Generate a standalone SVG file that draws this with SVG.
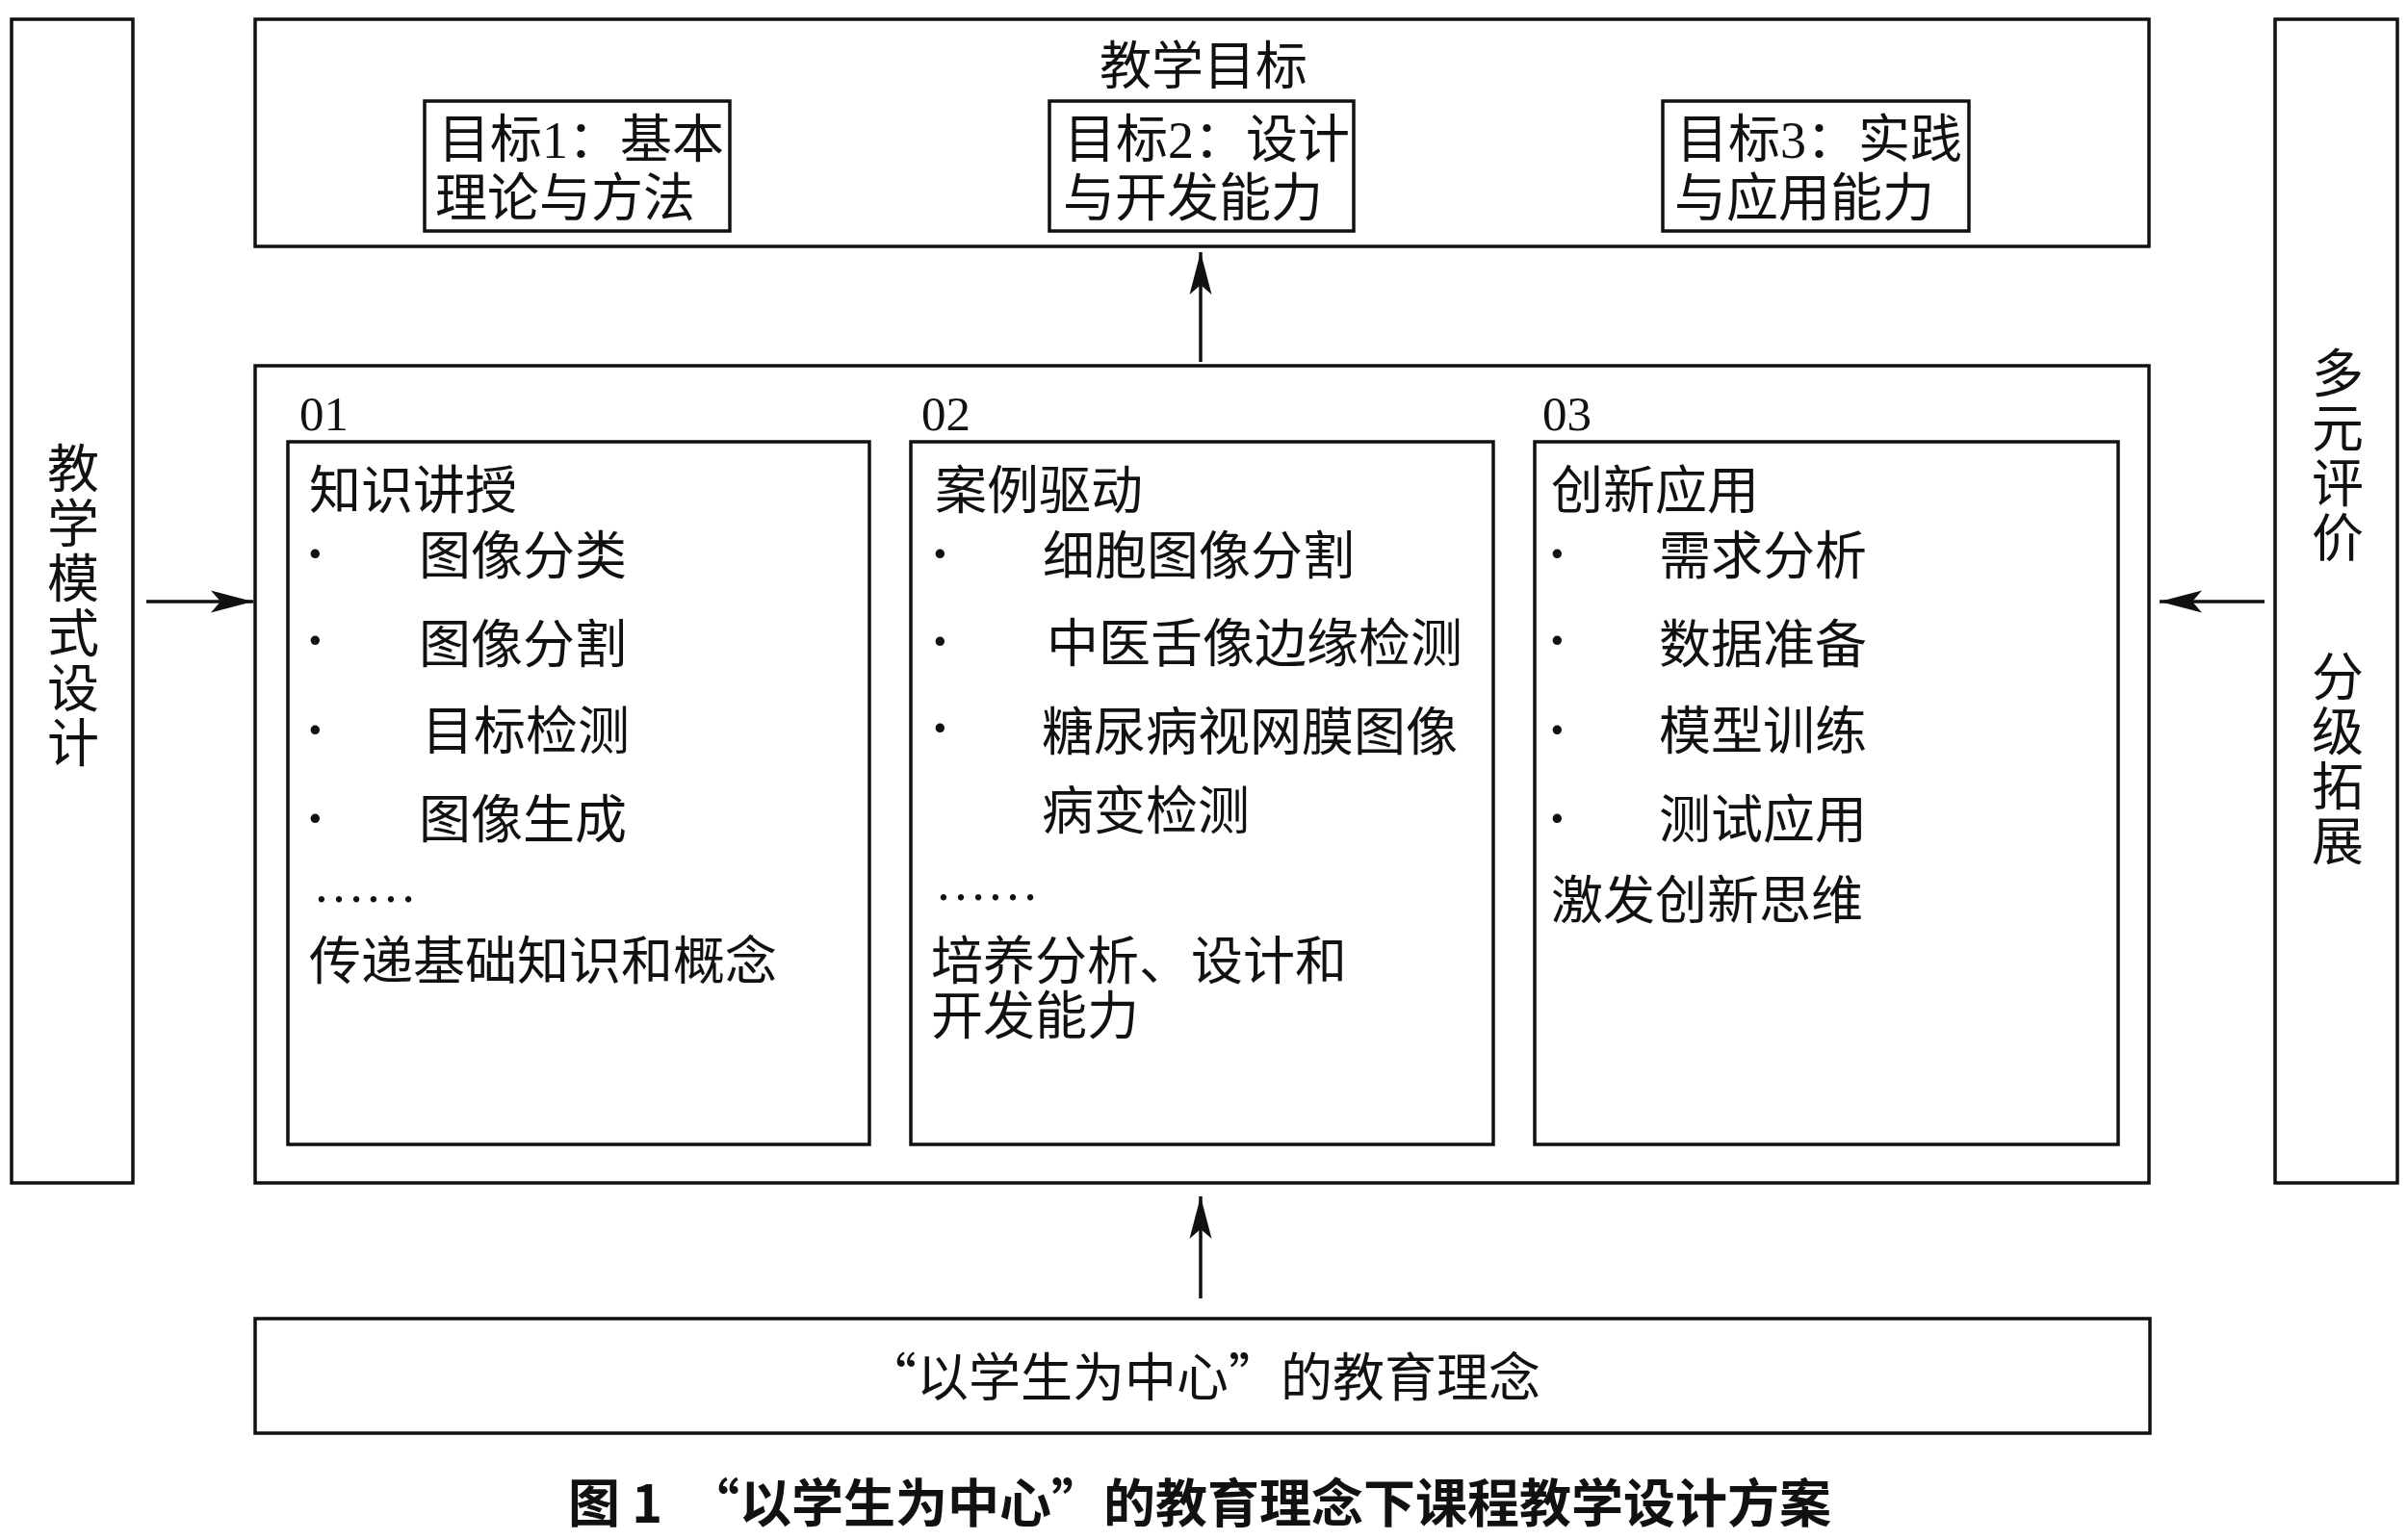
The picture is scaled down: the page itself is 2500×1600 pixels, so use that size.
<svg xmlns="http://www.w3.org/2000/svg" width="2500" height="1600" viewBox="0 0 2500 1600">
<defs>
<style>
.box{fill:#fff;stroke:#111;stroke-width:3.5}
.t{font-family:"Liberation Serif","Noto Sans CJK SC",serif;font-size:54px;fill:#111}
.b{font-family:"Liberation Serif",serif;font-size:80px;fill:#111}
.num{font-family:"Liberation Serif",serif;font-size:51px;fill:#111}
.c{text-anchor:middle}
.cap{font-family:"Noto Sans CJK SC","Liberation Sans",sans-serif;font-size:54px;font-weight:700;fill:#111}
.conn{stroke:#111;stroke-width:3.5;fill:none;marker-end:url(#ah)}
</style>
<marker id="ah" markerUnits="userSpaceOnUse" viewBox="0 -12 44 24" refX="44" refY="0" markerWidth="44" markerHeight="24" orient="auto">
<path d="M0,-11.5 L44,0 L0,11.5 L10,0 Z" fill="#111"/>
</marker>
</defs>
<rect width="2500" height="1600" fill="#fff"/>

<g id="left-design">
<rect class="box" x="12" y="20" width="126" height="1209"/>
<text class="t c"><tspan x="76" y="507">教</tspan><tspan x="76" y="564">学</tspan><tspan x="76" y="621">模</tspan><tspan x="76" y="678">式</tspan><tspan x="76" y="735">设</tspan><tspan x="76" y="792">计</tspan></text>
</g>

<g id="right-eval">
<rect class="box" x="2363" y="20" width="127" height="1209"/>
<text class="t c"><tspan x="2428" y="408">多</tspan><tspan x="2428" y="465">元</tspan><tspan x="2428" y="522">评</tspan><tspan x="2428" y="579">价</tspan></text>
<text class="t c"><tspan x="2428" y="723">分</tspan><tspan x="2428" y="780">级</tspan><tspan x="2428" y="837">拓</tspan><tspan x="2428" y="894">展</tspan></text>
</g>

<g id="goals">
<rect class="box" x="265" y="20" width="1967" height="236"/>
<text class="t c" x="1250" y="88">教学目标</text>
</g>
<g id="goal1">
<rect class="box" x="441" y="105" width="317" height="135"/>
<text class="t"><tspan x="455" y="164">目标1：基本</tspan><tspan x="452" y="225">理论与方法</tspan></text>
</g>
<g id="goal2">
<rect class="box" x="1090" y="105" width="316" height="135"/>
<text class="t"><tspan x="1105" y="164">目标2：设计</tspan><tspan x="1104" y="225">与开发能力</tspan></text>
</g>
<g id="goal3">
<rect class="box" x="1727" y="105" width="318" height="135"/>
<text class="t"><tspan x="1741" y="164">目标3：实践</tspan><tspan x="1739" y="225">与应用能力</tspan></text>
</g>

<g id="model">
<rect class="box" x="265" y="380" width="1967" height="849"/>
</g>

<g id="m01">
<text class="num" x="311" y="447">01</text>
<rect class="box" x="299" y="459" width="604" height="730"/>
<text class="t" x="321" y="529">知识讲授</text>
<text class="b"><tspan x="314" y="602">·</tspan><tspan x="314" y="692">·</tspan><tspan x="314" y="785">·</tspan><tspan x="314" y="877">·</tspan></text>
<text class="t"><tspan x="435" y="597">图像分类</tspan><tspan x="435" y="689">图像分割</tspan><tspan x="438" y="779">目标检测</tspan><tspan x="435" y="871">图像生成</tspan></text>
<text class="t" x="325" y="937">……</text>
<text class="t" x="321" y="1018">传递基础知识和概念</text>
</g>

<g id="m02">
<text class="num" x="957" y="447">02</text>
<rect class="box" x="946" y="459" width="605" height="730"/>
<text class="t" x="971" y="529">案例驱动</text>
<text class="b"><tspan x="963" y="602">·</tspan><tspan x="963" y="693">·</tspan><tspan x="963" y="783">·</tspan></text>
<text class="t"><tspan x="1083" y="597">细胞图像分割</tspan><tspan x="1087" y="688">中医舌像边缘检测</tspan><tspan x="1082" y="780">糖尿病视网膜图像</tspan><tspan x="1082" y="862">病变检测</tspan></text>
<text class="t" x="971" y="935">……</text>
<text class="t"><tspan x="967" y="1018">培养分析、设计和</tspan><tspan x="967" y="1075">开发能力</tspan></text>
</g>

<g id="m03">
<text class="num" x="1602" y="447">03</text>
<rect class="box" x="1594" y="459" width="606" height="730"/>
<text class="t" x="1611" y="529">创新应用</text>
<text class="b"><tspan x="1604" y="602">·</tspan><tspan x="1604" y="692">·</tspan><tspan x="1604" y="785">·</tspan><tspan x="1604" y="877">·</tspan></text>
<text class="t"><tspan x="1723" y="597">需求分析</tspan><tspan x="1723" y="689">数据准备</tspan><tspan x="1723" y="779">模型训练</tspan><tspan x="1723" y="871">测试应用</tspan></text>
<text class="t" x="1611" y="955">激发创新思维</text>
</g>

<g id="philosophy">
<rect class="box" x="265" y="1370" width="1968" height="119"/>
<text class="t c" x="1249" y="1451" style="font-family:'Noto Sans CJK SC','Liberation Serif',sans-serif">“以学生为中心”的教育理念</text>
</g>

<g id="connectors">
<line class="conn" x1="1247" y1="376" x2="1247" y2="262"/>
<line class="conn" x1="1247" y1="1349" x2="1247" y2="1243"/>
<line class="conn" x1="152" y1="625" x2="263" y2="625"/>
<line class="conn" x1="2352" y1="625" x2="2243" y2="625"/>
</g>

<text class="cap"><tspan x="590" y="1582">图 1</tspan><tspan x="714" y="1582">“以学生为中心”的教育理念下课程教学设计方案</tspan></text>
</svg>
